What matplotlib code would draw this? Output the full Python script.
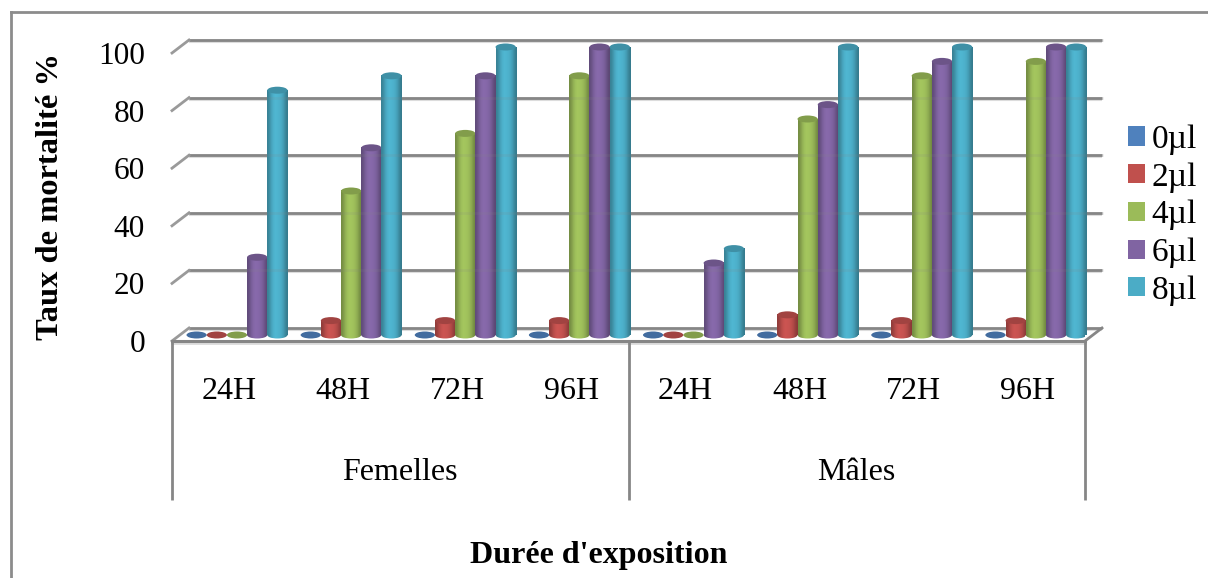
import matplotlib
matplotlib.use("Agg")
import matplotlib.pyplot as plt
import numpy as np
from matplotlib.colors import to_rgb
from matplotlib.lines import Line2D
from matplotlib.patches import Ellipse

plt.rcParams['font.family'] = ['Liberation Serif', 'DejaVu Serif']

# data
durations = ['24H', '48H', '72H', '96H', '24H', '48H', '72H', '96H']
sexes = ['Femelles', 'Mâles']
doses = ['0µl', '2µl', '4µl', '6µl', '8µl']
mort_0 = [0, 0, 0, 0, 0, 0, 0, 0]
mort_2 = [0, 5, 5, 5, 0, 7, 5, 5]
mort_4 = [0, 50, 70, 90, 0, 75, 90, 95]
mort_6 = [27, 65, 90, 100, 25, 80, 95, 100]
mort_8 = [85, 90, 100, 100, 30, 100, 100, 100]
series = [mort_0, mort_2, mort_4, mort_6, mort_8]
colors = ['#4F81BD', '#C0504D', '#9BBB59', '#8064A2', '#4BACC6']
yticks = [0, 20, 40, 60, 80, 100]

W, H = 1208, 578
fig = plt.figure(figsize=(W / 100, H / 100), dpi=100)
# axes = front plane of the fake 3d box
left, right, top, bottom = 172, 1085, 53, 341
ax = fig.add_axes([left / W, 1 - bottom / H, (right - left) / W, (bottom - top) / H])
ax.set_xlim(0, 8)
ax.set_ylim(0, 100)
px_x = 8 / (right - left)
px_y = 100 / (bottom - top)

depth_x = 17 * px_x
depth_y = 13 * px_y
grey = '#868686'
shadow = '#dcdcdc'

# back wall, side wall, floor
for v in yticks:
    ax.plot([depth_x, 8 + depth_x], [v + depth_y] * 2, color=grey, lw=2, clip_on=False, zorder=1, solid_capstyle='butt')
    ax.plot([depth_x, 8 + depth_x], [v + depth_y - 2 * px_y] * 2, color=shadow, lw=1.5, clip_on=False, zorder=0.9, solid_capstyle='butt')
    ax.plot([0, depth_x], [v, v + depth_y], color='#9a9a9a', lw=2, clip_on=False, zorder=1)
ax.plot([8, 8 + depth_x], [0, depth_y], color=grey, lw=2, clip_on=False, zorder=1)
ax.plot([0, 8], [-2 * px_y, -2 * px_y], color=shadow, lw=2, clip_on=False, zorder=1)
ax.plot([0, 8], [0, 0], color=grey, lw=2.2, clip_on=False, zorder=6)

# cylinders
bar_w = 20.2 * px_x
start = 14.5 * px_x
lift = 6 * px_y
cap_h = 7 * px_y
shades = np.array([.76, .85, .96, 1.03, 1.06, 1.05, 1.03, .99, .92, .81, .72])
handles = []
for i, (vals, col) in enumerate(zip(series, colors)):
    z = 2 + i * 0.1
    rgb = np.array(to_rgb(col))
    grad = np.clip(shades[:, None] * rgb, 0, 1)[None, :, :]
    xs = np.arange(8) + start + (i + 0.5) * bar_w
    bars = ax.bar(xs, vals, bar_w, bottom=lift, color=col, clip_on=False, zorder=z, label=doses[i])
    handles.append(bars)
    for x, v in zip(xs, vals):
        l, r = x - bar_w / 2, x + bar_w / 2
        if v > 0:
            body = ax.imshow(grad, extent=(l, r, lift, lift + v), aspect='auto', interpolation='bilinear', zorder=z)
            body.set_clip_on(False)
            base = Ellipse((x, lift), bar_w, cap_h, transform=ax.transData, fc='none', ec='none')
            ax.add_patch(base)
            foot = ax.imshow(grad, extent=(l, r, lift - cap_h / 2, lift), aspect='auto', interpolation='bilinear', zorder=z)
            foot.set_clip_path(base)
        ax.add_patch(Ellipse((x, lift + v), bar_w, cap_h, fc=rgb * 0.84, ec='none', clip_on=False, zorder=z + 0.05))
ax.set_xlim(0, 8)
ax.set_ylim(0, 100)

# grid shows faintly through the cylinders
for v in yticks[1:]:
    ax.plot([depth_x, 8 + depth_x], [v + depth_y] * 2, color=grey, lw=2, alpha=0.14, clip_on=False, zorder=5)

for s in ax.spines.values():
    s.set_visible(False)
ax.patch.set_visible(False)
ax.set_yticks(yticks)
ax.tick_params(axis='y', length=0, pad=19.5, labelsize=22.5)
ax.set_xticks(np.arange(8) + 0.5, durations)
ax.tick_params(axis='x', length=0, pad=26, labelsize=23)

# two level category axis
sep_bottom = (bottom - 500) * px_y
ax.vlines([0, 4, 8], sep_bottom, 0, color=grey, lw=2, clip_on=False)
for x, name in zip([2, 6], sexes):
    ax.text(x, (bottom - 472) * px_y, name, ha='center', va='center', fontsize=23)

fig.text(51 / W, 1 - 197 / H, 'Taux de mortalité %', rotation=90, ha='center', va='center', fontsize=23.4, fontweight='bold')
fig.text(599 / W, 1 - 555 / H, "Durée d'exposition", ha='center', va='center', fontsize=23, fontweight='bold')

fig.legend(handles=handles, labels=doses, loc='center left', bbox_to_anchor=(1128 / W, 1 - 215 / H), frameon=False,
           fontsize=24, handlelength=0.51, handleheight=0.51, handletextpad=0.2, labelspacing=0.216, borderpad=0, borderaxespad=0)

# chart area border, runs off the right and bottom
fig.add_artist(Line2D([10.5 / W, 10.5 / W], [0, 1 - 12 / H], color='#8c8c8c', lw=2))
fig.add_artist(Line2D([10.5 / W, 1], [1 - 12 / H, 1 - 12 / H], color='#8c8c8c', lw=2))

fig.savefig('out.png', dpi=100)
